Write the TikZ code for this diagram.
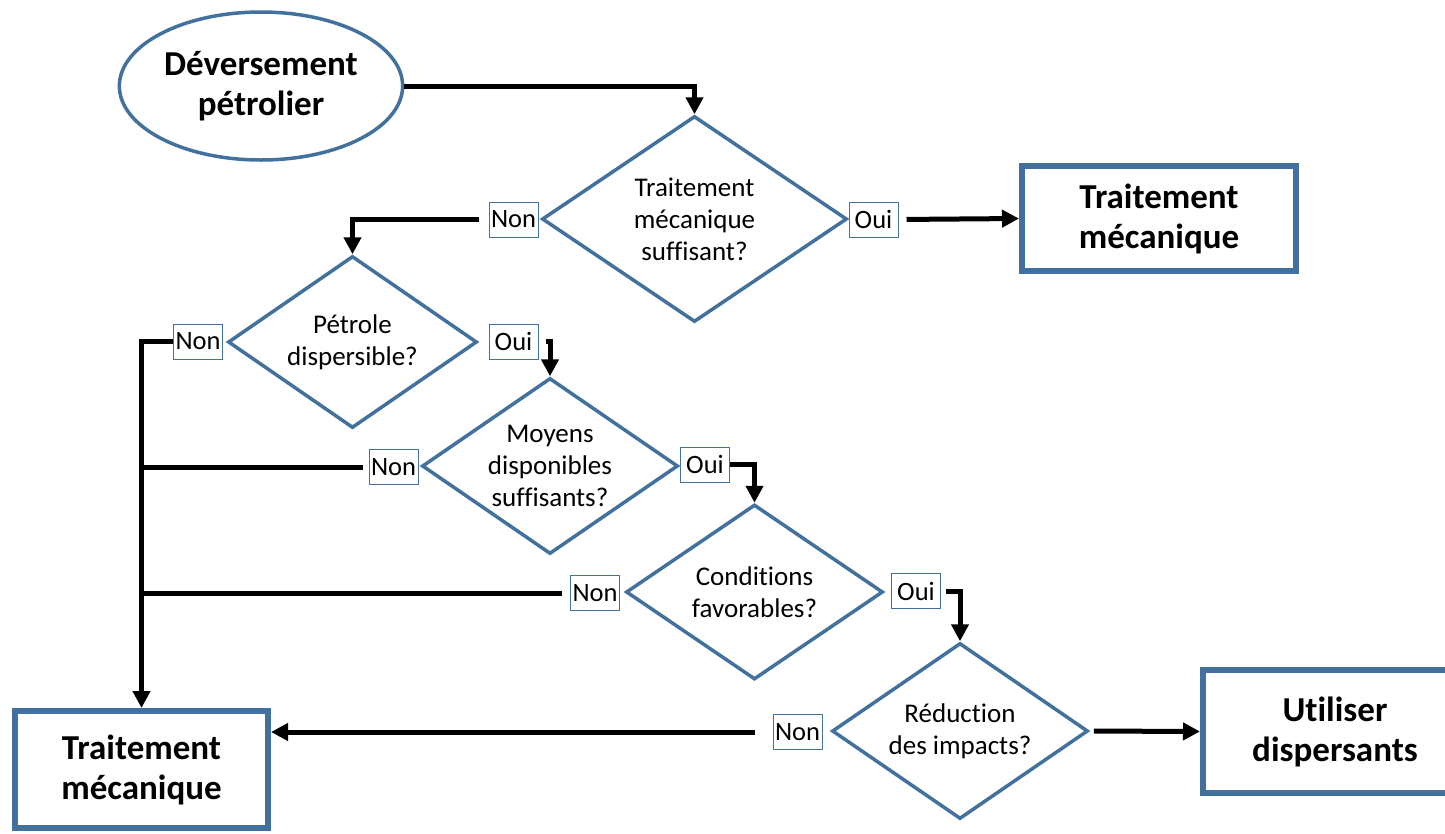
\documentclass[tikz,border=0pt]{standalone}
\usepackage{fontspec}
\setmainfont[Ligatures=NoCommon]{Carlito}
\usetikzlibrary{shapes.geometric,arrows.meta}
\definecolor{bord}{RGB}{65,113,156}
\begin{document}
\begin{tikzpicture}[x=1pt,y=-1pt,
  bigtxt/.style={font=\fontsize{35}{40}\selectfont\bfseries, align=center},
  dectxt/.style={font=\fontsize{27}{32}\selectfont, align=center},
  tag/.style={draw=bord, line width=1pt, fill=white, font=\fontsize{26.5}{30}\selectfont, minimum width=49pt, minimum height=35pt, inner sep=1pt},
  dec/.style 2 args={diamond, draw=bord, line width=3.5pt, minimum width=#1, minimum height=#2, inner sep=0pt},
  endbox/.style 2 args={rectangle, draw=bord, line width=6pt, fill=white, minimum width=#1, minimum height=#2, bigtxt},
  conn/.style={line width=5pt, draw=black},
  arr/.style={conn, -{Triangle[length=17pt,width=17pt]}},
]
\useasboundingbox (0,0) rectangle (1445,833);
\clip (0,0) rectangle (1445,833);

% shapes
\node[ellipse, draw=bord, line width=3.5pt, minimum width=278pt, minimum height=148pt, bigtxt] (ev) at (261,86) {Déversement\\pétrolier};
\node[dec={305pt}{206pt}, label={[dectxt]center:{Traitement\\mécanique\\suffisant?}}] (d1) at (694.5,219) {};
\node[endbox={274pt}{105pt}] (tm1) at (1159,218.5) {Traitement\\mécanique};
\node[dec={249pt}{172pt}, label={[dectxt]center:{Pétrole\\dispersible?}}] (d2) at (352.5,342) {};
\node[dec={256pt}{176pt}, label={[dectxt]center:{Moyens\\disponibles\\suffisants?}}] (d3) at (550,466) {};
\node[dec={257pt}{175pt}, label={[dectxt]center:{Conditions\\favorables?}}] (d4) at (754.5,592) {};
\node[dec={256pt}{176pt}, label={[dectxt]center:{Réduction\\des impacts?}}] (d5) at (960,731) {};
\node[endbox={253pt}{117pt}] (tm2) at (141.5,769.5) {Traitement\\mécanique};
\node[endbox={264pt}{123pt}] (ut) at (1335,731.5) {Utiliser\\dispersants};

% tags
\node[tag] (n1) at (513.5,219.5) {Non};
\node[tag] (o1) at (873.5,219.5) {Oui};
\node[tag] (n2) at (198,341.5) {Non};
\node[tag] (o2) at (513.5,341.5) {Oui};
\node[tag] (n3) at (393.5,467) {Non};
\node[tag] (o3) at (705,464.5) {Oui};
\node[tag] (n4) at (595,593) {Non};
\node[tag] (o4) at (916,591) {Oui};
\node[tag] (n5) at (797.5,732) {Non};

% connectors
\draw[arr] (ev.east) -| (d1.north);
\draw[arr, shorten <=10pt] (n1.west) -| (d2.north);
\draw[arr, shorten <=8pt] (o1.east) -- (tm1.west);
\draw[arr] (n2.west) -| (tm2.north);
\draw[arr, shorten <=7pt] (o2.east) -| (d3.north);
\draw[conn, shorten <=6pt] (n3.west) -- (n3.west -| tm2.north);
\draw[arr] (o3.east) -| (d4.north);
\draw[conn, shorten <=8pt] (n4.west) -- (n4.west -| tm2.north);
\draw[arr, shorten <=5pt] (o4.east) -| (d5.north);
\draw[arr, shorten <=18pt] (n5.west) -- (n5.west -| tm2.east);
\draw[arr, shorten <=4pt] (d5.east) -- (ut.west);
\end{tikzpicture}
\end{document}
